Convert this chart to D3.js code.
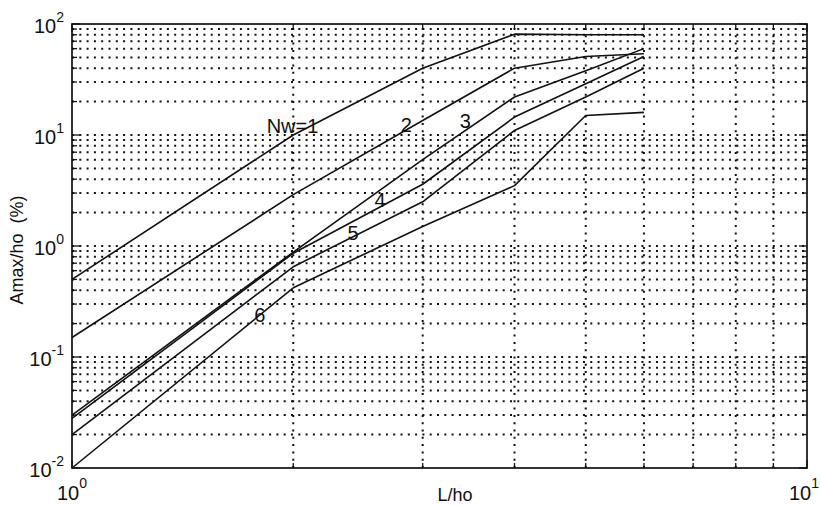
<!DOCTYPE html>
<html>
<head>
<meta charset="utf-8">
<script src="https://cdn.jsdelivr.net/npm/d3@7"></script>
<style>
  body { margin: 0; background: #fff; }
  svg text { font-family: "Liberation Sans", Arial, Helvetica, sans-serif; fill: #111; }
</style>
</head>
<body>
<svg id="svg-chart" width="820" height="505"></svg>
<script>
var L_HO = [1, 2, 3, 4, 5, 6];

// Amax/ho (%) for each number of waves Nw.
var AMAX_NW1 = [0.5, 10, 40, 81, 80, 80];
var AMAX_NW2 = [0.15, 2.9, 13.5, 40, 51, 54];
var AMAX_NW3 = [0.03, 0.88, 6, 22, 38, 60];
var AMAX_NW4 = [0.028, 0.86, 3.6, 14.5, 29, 51];
var AMAX_NW5 = [0.02, 0.65, 2.5, 11, 22, 40];
var AMAX_NW6 = [0.01, 0.42, 1.5, 3.5, 15, 16];

var CURVE_LABELS = ["Nw=1", "2", "3", "4", "5", "6"];
// where each curve label sits, in data units (L/ho, Amax/ho)
var LABEL_L    = [1.84, 2.80, 3.37, 2.58, 2.37, 1.77];
var LABEL_AMAX = [10.4, 10.6, 11.6, 2.24, 1.13, 0.207];

var X_TICKS = [1, 10];
var X_TICK_EXP = ["0", "1"];
var Y_TICKS = [0.01, 0.1, 1, 10, 100];
var Y_TICK_EXP = ["-2", "-1", "0", "1", "2"];

var SERIES = [AMAX_NW1, AMAX_NW2, AMAX_NW3, AMAX_NW4, AMAX_NW5, AMAX_NW6];

var X0 = 72, X1 = 807, Y0 = 468, Y1 = 24;

var svg = d3.select("#svg-chart");

var x = d3.scaleLog().domain([1, 10]).range([X0, X1]);
var y = d3.scaleLog().domain([0.01, 100]).range([Y0, Y1]);

// 1,2,...,9 times every power of ten between the two exponents
function chart__log_steps(lo, hi) {
  var out = [];
  for (var e = lo; e < hi; e++) {
    for (var k = 1; k < 10; k++) {
      out.push(k * Math.pow(10, e));
    }
  }
  out.push(Math.pow(10, hi));
  return out;
}

function chart__is_major(v) {
  var l = Math.log10(v);
  return Math.abs(l - Math.round(l)) < 1e-9;
}

var x_grid = chart__log_steps(0, 1);
var y_grid = chart__log_steps(-2, 2);

// Dotted grid, the same for major and minor steps
var grid = svg.append("g")
  .attr("stroke", "#111")
  .attr("stroke-width", 2)
  .attr("stroke-dasharray", "2,5.3");

grid.selectAll("line.gx")
  .data(x_grid.slice(1, -1))
  .enter().append("line")
  .attr("class", "gx")
  .attr("x1", function (d) { return x(d); })
  .attr("x2", function (d) { return x(d); })
  .attr("y1", Y0)
  .attr("y2", Y1);

grid.selectAll("line.gy")
  .data(y_grid.slice(1, -1))
  .enter().append("line")
  .attr("class", "gy")
  .attr("x1", X0)
  .attr("x2", X1)
  .attr("y1", function (d) { return y(d); })
  .attr("y2", function (d) { return y(d); });

// The curves
var line = d3.line()
  .x(function (d) { return x(d[0]); })
  .y(function (d) { return y(d[1]); });

svg.append("g")
  .selectAll("path")
  .data(SERIES)
  .enter().append("path")
  .attr("fill", "none")
  .attr("stroke", "#111")
  .attr("stroke-width", 1.6)
  .attr("stroke-linejoin", "round")
  .attr("d", function (vals) {
    return line(vals.map(function (v, i) { return [L_HO[i], v]; }));
  });

// Curve labels
svg.append("g")
  .selectAll("text")
  .data(CURVE_LABELS)
  .enter().append("text")
  .attr("x", function (d, i) { return x(LABEL_L[i]); })
  .attr("y", function (d, i) { return y(LABEL_AMAX[i]); })
  .attr("font-size", 20)
  .text(function (d) { return d; });

// Frame and inward ticks on all four sides
var frame = svg.append("g").attr("stroke", "#111");

frame.append("rect")
  .attr("x", X0).attr("y", Y1)
  .attr("width", X1 - X0).attr("height", Y0 - Y1)
  .attr("fill", "none")
  .attr("stroke-width", 1.7);

function tick_len(v) { return chart__is_major(v) ? 8 : 5; }

x_grid.forEach(function (v) {
  var px = x(v);
  frame.append("line").attr("x1", px).attr("x2", px)
    .attr("y1", Y0).attr("y2", Y0 - tick_len(v)).attr("stroke-width", 1.3);
  frame.append("line").attr("x1", px).attr("x2", px)
    .attr("y1", Y1).attr("y2", Y1 + tick_len(v)).attr("stroke-width", 1.3);
});

y_grid.forEach(function (v) {
  var py = y(v);
  frame.append("line").attr("y1", py).attr("y2", py)
    .attr("x1", X0).attr("x2", X0 + tick_len(v)).attr("stroke-width", 1.3);
  frame.append("line").attr("y1", py).attr("y2", py)
    .attr("x1", X1).attr("x2", X1 - tick_len(v)).attr("stroke-width", 1.3);
});

// Tick labels as 10 with a raised exponent
var y_lab = svg.append("g")
  .selectAll("text")
  .data(Y_TICKS)
  .enter().append("text")
  .attr("x", X0 - 8)
  .attr("y", function (d) { return y(d) + 9; })
  .attr("text-anchor", "end")
  .attr("font-size", 20);
y_lab.append("tspan").text("10");
y_lab.append("tspan")
  .attr("font-size", 14)
  .attr("dy", -11)
  .text(function (d, i) { return Y_TICK_EXP[i]; });

// the right label is pulled in a little so its exponent stays on the page
var x_lab = svg.append("g")
  .selectAll("text")
  .data(X_TICKS)
  .enter().append("text")
  .attr("x", function (d, i) { return x(d) - (i === 1 ? 3 : 0); })
  .attr("y", Y0 + 32)
  .attr("text-anchor", "middle")
  .attr("font-size", 20);
x_lab.append("tspan").text("10");
x_lab.append("tspan")
  .attr("font-size", 14)
  .attr("dy", -12)
  .text(function (d, i) { return X_TICK_EXP[i]; });

// Axis titles
svg.append("text")
  .attr("x", 455)
  .attr("y", 501)
  .attr("text-anchor", "middle")
  .attr("font-size", 18)
  .text("L/ho");

svg.append("text")
  .attr("transform", "translate(23,250) rotate(-90)")
  .attr("text-anchor", "middle")
  .attr("font-size", 18)
  .style("white-space", "pre")
  .text("Amax/ho  (%)");
</script>
</body>
</html>
